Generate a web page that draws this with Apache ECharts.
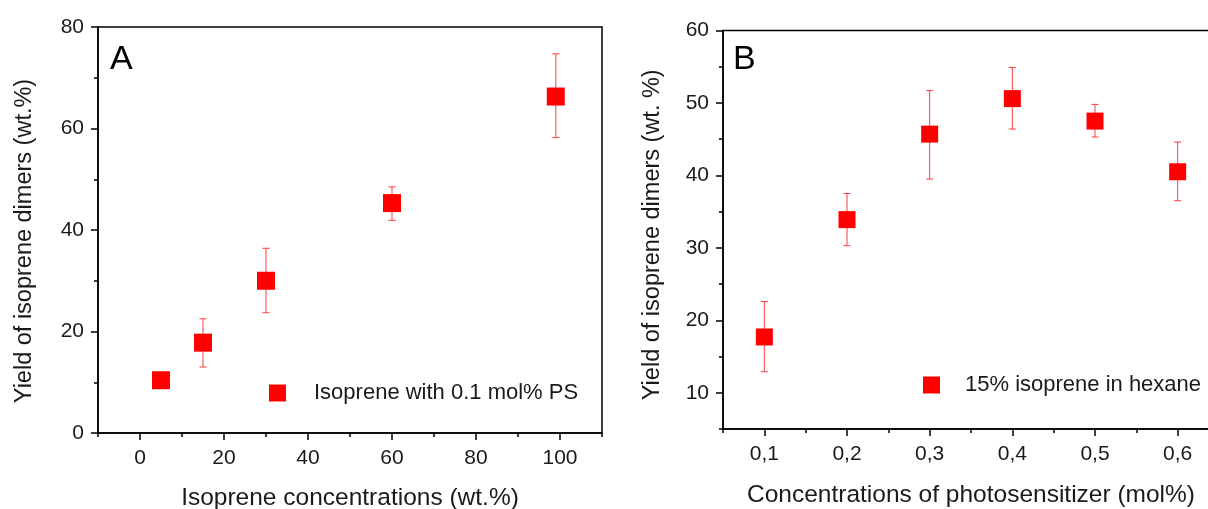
<!DOCTYPE html>
<html>
<head>
<meta charset="utf-8">
<script src="https://cdn.jsdelivr.net/npm/echarts@6/dist/echarts.min.js"></script>
<style>
html,body{margin:0;padding:0;background:#fff;}
#chart{width:1208px;height:509px;}
</style>
</head>
<body>
<div id="chart"></div>
<script>
// ---- Panel A data ----
const aX = [5, 15, 30, 60, 99];
const aY = [10.4, 17.8, 30.0, 45.3, 66.3];
const aLow = [10.4, 13.0, 23.7, 41.9, 58.2];
const aHigh = [10.4, 22.5, 36.4, 48.5, 74.7];
const aName = 'Isoprene with 0.1 mol% PS';
const aXMajor = [0, 20, 40, 60, 80, 100];
const aXMinor = [-10, 10, 30, 50, 70, 90, 110];
const aYMajor = [0, 20, 40, 60, 80];
const aYMinor = [10, 30, 50, 70];

// ---- Panel B data ----
const bX = [0.1, 0.2, 0.3, 0.4, 0.5, 0.6];
const bY = [17.7, 33.9, 45.7, 50.6, 47.5, 40.5];
const bLow = [12.9, 30.3, 39.5, 46.4, 45.3, 36.5];
const bHigh = [22.6, 37.5, 51.7, 54.9, 49.8, 44.6];
const bName = '15% isoprene in hexane';
const bXMajor = [0.1, 0.2, 0.3, 0.4, 0.5, 0.6];
const bXMinor = [0.05, 0.15, 0.25, 0.35, 0.45, 0.55, 0.65];
const bYMajor = [10, 20, 30, 40, 50, 60];
const bYMinor = [5, 15, 25, 35, 45, 55];

const FONT = "'Liberation Sans', Arial, sans-serif";
const RED = '#ff0000';
const ERR = '#ff3b3b';
const TXT = '#1a1a1a';

function pts(xs, ys) { return xs.map((x, i) => [x, ys[i]]); }
function errs(xs, lo, hi) { return xs.map((x, i) => [x, lo[i], hi[i]]); }

function errRender(params, api) {
  const x = api.value(0);
  const lo = api.coord([x, api.value(1)]);
  const hi = api.coord([x, api.value(2)]);
  const cap = 3.5;
  const st = { stroke: ERR, lineWidth: 1 };
  return {
    type: 'group',
    children: [
      { type: 'line', shape: { x1: lo[0], y1: lo[1], x2: hi[0], y2: hi[1] }, style: st },
      { type: 'line', shape: { x1: lo[0] - cap, y1: lo[1], x2: lo[0] + cap, y2: lo[1] }, style: st },
      { type: 'line', shape: { x1: hi[0] - cap, y1: hi[1], x2: hi[0] + cap, y2: hi[1] }, style: st }
    ]
  };
}

const lineSt = { color: '#000', width: 1.5 };

function mainAxis(kind, gi, min, max, interval, majors, name, nameGap, fmt, nameStyleExtra) {
  const isX = kind === 'x';
  return {
    type: 'value', gridIndex: gi, min: min, max: max, interval: interval,
    position: isX ? 'bottom' : 'left',
    name: name, nameLocation: 'middle', nameGap: nameGap,
    nameTextStyle: Object.assign({ fontFamily: FONT, fontSize: isX ? 24.5 : 23.5, color: TXT }, nameStyleExtra || {}),
    axisLine: { show: true, onZero: false, lineStyle: lineSt },
    axisTick: { show: true, length: 7, lineStyle: lineSt, customValues: majors },
    minorTick: { show: false },
    axisLabel: {
      fontFamily: FONT, fontSize: 21, color: TXT, margin: isX ? 15 : 14,
      customValues: majors, formatter: fmt
    },
    splitLine: { show: false }
  };
}
function minorAxis(kind, gi, min, max, interval, minors) {
  const isX = kind === 'x';
  return {
    type: 'value', gridIndex: gi, min: min, max: max, interval: interval,
    position: isX ? 'bottom' : 'left', offset: 0,
    axisLine: { show: false, onZero: false },
    axisTick: { show: true, length: 4, lineStyle: lineSt, customValues: minors },
    axisLabel: { show: false },
    splitLine: { show: false }
  };
}

const fmtComma = function (v) { return (Math.round(v * 10) / 10).toFixed(1).replace('.', ','); };

const chart = echarts.init(document.getElementById('chart'), null, { renderer: 'canvas' });
const option = {
  animation: false,
  backgroundColor: '#fff',
  grid: [
    { left: 98, top: 27, width: 504, height: 406, show: true, borderColor: '#000', borderWidth: 1.5,
      backgroundColor: 'transparent', outerBoundsMode: 'none', containLabel: false },
    { left: 723, top: 30.5, width: 496, height: 398.5, show: true, borderColor: '#000', borderWidth: 1.5,
      backgroundColor: 'transparent', outerBoundsMode: 'none', containLabel: false }
  ],
  xAxis: [
    mainAxis('x', 0, -10, 110, 10, aXMajor, 'Isoprene concentrations (wt.%)', 53, function (v) { return String(Math.round(v)); }),
    minorAxis('x', 0, -10, 110, 10, aXMinor),
    mainAxis('x', 1, 0.05, 0.65, 0.05, bXMajor, 'Concentrations of photosensitizer (mol%)', 54, fmtComma),
    minorAxis('x', 1, 0.05, 0.65, 0.05, bXMinor)
  ],
  yAxis: [
    mainAxis('y', 0, 0, 80, 20, aYMajor, 'Yield of isoprene dimers (wt.%)', 61, function (v) { return String(Math.round(v)); }, { padding: [0, 22, 0, 0] }),
    minorAxis('y', 0, 0, 80, 20, aYMinor),
    mainAxis('y', 1, 5, 60, 5, bYMajor, 'Yield of isoprene dimers (wt. %)', 58, function (v) { return String(Math.round(v)); }, { padding: [0, 10, 0, 0] }),
    minorAxis('y', 1, 5, 60, 5, bYMinor)
  ],
  legend: [
    { left: 269, top: 382, padding: 0, itemWidth: 17, itemHeight: 17, icon: 'rect', data: [aName],
      textStyle: { fontFamily: FONT, fontSize: 22, color: TXT, padding: [0, 0, 0, 23] } },
    { left: 923, top: 374, padding: 0, itemWidth: 17, itemHeight: 17, icon: 'rect', data: [bName],
      textStyle: { fontFamily: FONT, fontSize: 22, color: TXT, padding: [0, 0, 0, 20] } }
  ],
  graphic: [
    { type: 'text', left: 110, top: 43, style: { text: 'A', font: '34px ' + FONT, fill: '#000' } },
    { type: 'text', left: 733, top: 43, style: { text: 'B', font: '34px ' + FONT, fill: '#000' } }
  ],
  series: [
    { type: 'custom', name: 'errA', xAxisIndex: 0, yAxisIndex: 0, renderItem: errRender,
      data: errs(aX, aLow, aHigh), z: 2, encode: { x: 0, y: [1, 2] } },
    { type: 'scatter', name: aName, xAxisIndex: 0, yAxisIndex: 0, symbol: 'rect', symbolSize: 18,
      itemStyle: { color: RED, opacity: 1 }, data: pts(aX, aY), z: 3 },
    { type: 'custom', name: 'errB', xAxisIndex: 2, yAxisIndex: 2, renderItem: errRender,
      data: errs(bX, bLow, bHigh), z: 2, encode: { x: 0, y: [1, 2] } },
    { type: 'scatter', name: bName, xAxisIndex: 2, yAxisIndex: 2, symbol: 'rect', symbolSize: 17,
      itemStyle: { color: RED, opacity: 1 }, data: pts(bX, bY), z: 3 }
  ]
};
chart.setOption(option);
</script>
</body>
</html>
